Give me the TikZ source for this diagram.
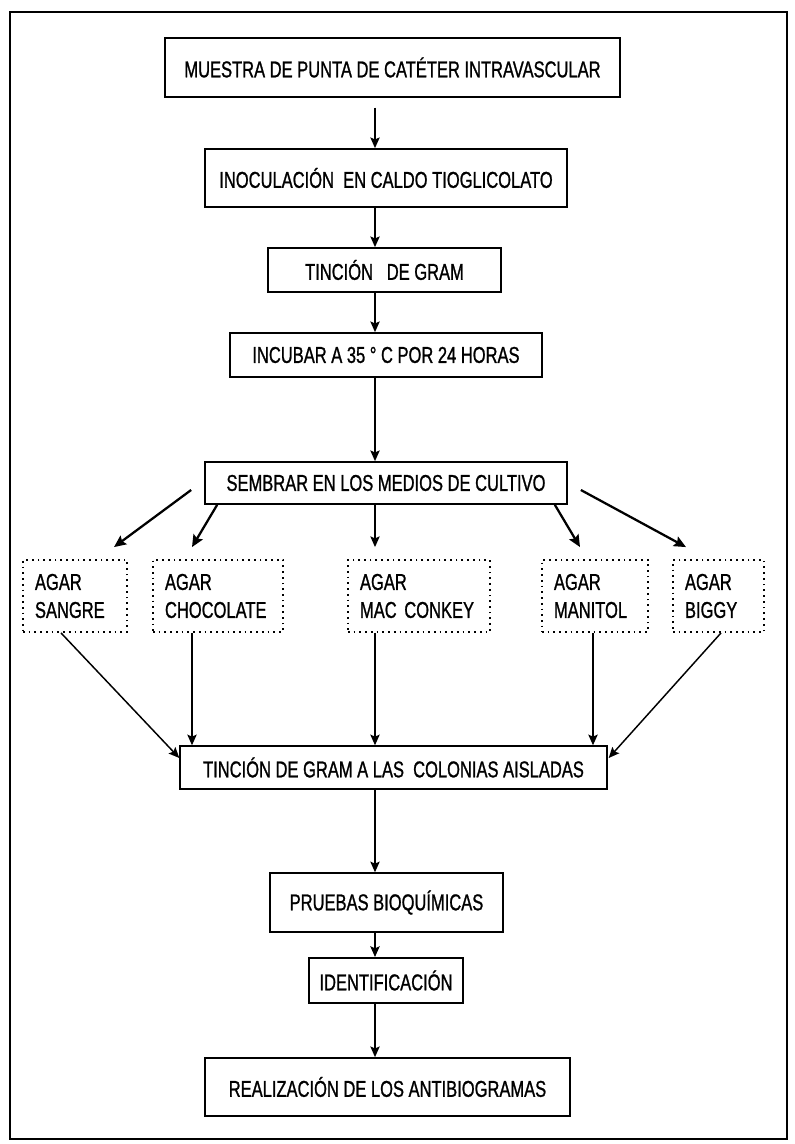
\documentclass[tikz,border=0pt]{standalone}
\usepackage{fontspec}
\setmainfont{Liberation Sans}[FakeStretch=0.72,FakeBold=1]
\usetikzlibrary{arrows.meta,calc}
\tikzset{
  stepbox/.style={draw,line width=1.3pt,rectangle,inner sep=0pt,align=center,
    font=\fontsize{17.2}{21}\selectfont},
  agarbox/.style={draw,line width=1.4pt,dash pattern=on 1.3pt off 3pt,rectangle,
    inner xsep=9pt,inner ysep=0pt,align=left,minimum height=54pt,
    font=\fontsize{17.2}{21}\selectfont},
  arr/.style={line width=1.1pt,-{Stealth[length=8pt,width=7pt,inset=1.5pt]}},
  darr/.style={line width=1.7pt,-{Stealth[length=9pt,width=8pt,inset=1.5pt]}},
  frame/.style={line width=1.3pt}
}
\begin{document}
\begin{tikzpicture}[x=0.75pt,y=-0.75pt]
\useasboundingbox (0,0) rectangle (794,1144);
\draw[frame] (10,12) rectangle (787,1139);
% spine and columns
\coordinate (spine) at (375,0);
\coordinate (xchoc) at (192,0);
\coordinate (xman) at (593,0);
% main boxes
\node[stepbox,minimum width=341pt,minimum height=44pt] (m1) at (392.5,67.5) {MUESTRA DE PUNTA DE CATÉTER INTRAVASCULAR};
\node[stepbox,minimum width=271.5pt,minimum height=43.5pt] (m2) at (386,178) {INOCULACIÓN\ \ EN CALDO TIOGLICOLATO};
\node[stepbox,minimum width=175pt,minimum height=33pt] (m3) at (384.5,270) {TINCIÓN\ \ \ DE GRAM};
\node[stepbox,minimum width=234pt,minimum height=33pt] (m4) at (386,355) {INCUBAR A 35 ° C POR 24 HORAS};
\node[stepbox,minimum width=271.5pt,minimum height=31.5pt] (m5) at (386,483) {SEMBRAR EN LOS MEDIOS DE CULTIVO};
% agar boxes
\node[agarbox,text width=60pt] (a1) at (75,596) {\mbox{AGAR}\\\mbox{SANGRE}};
\node[agarbox,text width=79.5pt] (a2) at (218,596) {\mbox{AGAR}\\\mbox{CHOCOLATE}};
\node[agarbox,text width=88.5pt] (a3) at (419,596) {\mbox{AGAR}\\\mbox{MAC CONKEY}};
\node[agarbox,text width=61.5pt] (a4) at (595,596) {\mbox{AGAR}\\\mbox{MANITOL}};
\node[agarbox,text width=50.25pt] (a5) at (718.5,596) {\mbox{AGAR}\\\mbox{BIGGY}};
% lower boxes
\node[stepbox,minimum width=320pt,minimum height=32pt] (m6) at (393.5,767.5) {TINCIÓN DE GRAM A LAS\ \ COLONIAS AISLADAS};
\node[stepbox,minimum width=175pt,minimum height=44pt] (m7) at (386.5,902.5) {PRUEBAS BIOQUÍMICAS};
\node[stepbox,minimum width=115.5pt,minimum height=34pt] (m8) at (386,980.5) {IDENTIFICACIÓN};
\node[stepbox,minimum width=274pt,minimum height=43.5pt] (m9) at (387.5,1087) {REALIZACIÓN DE LOS ANTIBIOGRAMAS};
% spine arrows
\draw[arr,shorten <=7.5pt] (m1.south -| spine) -- (m2.north -| spine);
\draw[arr] (m2.south -| spine) -- (m3.north -| spine);
\draw[arr] (m3.south -| spine) -- (m4.north -| spine);
\draw[arr] (m4.south -| spine) -- (m5.north -| spine);
% distribution arrows
\draw[darr] ($(m5.west)+(-13,7)$) -- ($(a1.north)+(39,-12)$);
\draw[darr] ($(m5.south west)+(13,0)$) -- ($(a2.north)+(-26,-12)$);
\draw[arr] (m5.south -| spine) -- ($(a3.north -| spine)+(0,-12)$);
\draw[darr] ($(m5.south east)+(-13,0)$) -- ($(a4.north)+(-15,-12)$);
\draw[darr] ($(m5.east)+(13,7)$) -- ($(a5.north)+(-32.5,-12)$);
% collection arrows
\draw[arr] ($(a1.south)+(-14,0)$) -- ($(m6.west)+(0,-9.5)$);
\draw[arr] (a2.south -| xchoc) -- (m6.north -| xchoc);
\draw[arr] (a3.south -| spine) -- (m6.north -| spine);
\draw[arr] (a4.south -| xman) -- (m6.north -| xman);
\draw[arr] ($(a5.south)+(2.5,0)$) -- ($(m6.east)+(1,-9.5)$);
% lower spine
\draw[arr] (m6.south -| spine) -- (m7.north -| spine);
\draw[arr] (m7.south -| spine) -- (m8.north -| spine);
\draw[arr] (m8.south -| spine) -- (m9.north -| spine);
\end{tikzpicture}
\end{document}
